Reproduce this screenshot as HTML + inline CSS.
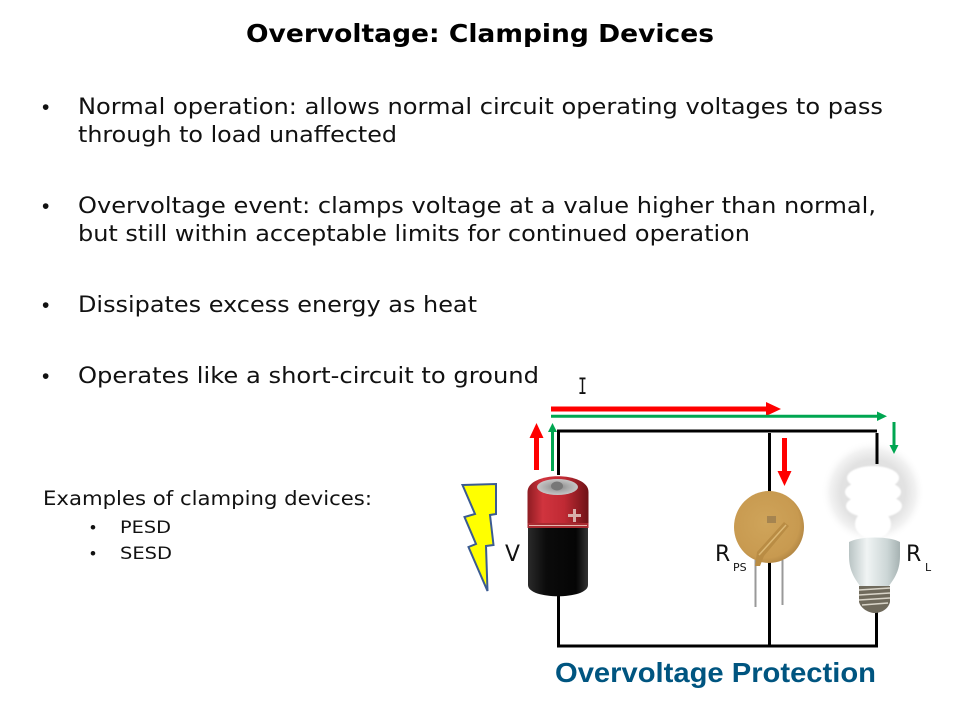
<!DOCTYPE html>
<html>
<head>
<meta charset="utf-8">
<style>
html,body{margin:0;padding:0;background:#fff;width:960px;height:720px;overflow:hidden}
svg{display:block}
.b{font-family:"DejaVu Sans","Liberation Sans",sans-serif;font-size:22.3px;fill:#111}
.s{font-family:"DejaVu Sans","Liberation Sans",sans-serif;font-size:16.8px;fill:#111}
.d{font-family:"Liberation Sans",sans-serif;font-size:21px;fill:#111}
.v{font-family:"DejaVu Sans",sans-serif;font-size:22px;fill:#111}
</style>
</head>
<body>
<svg width="960" height="720" viewBox="0 0 960 720" xmlns="http://www.w3.org/2000/svg">
<defs>
<linearGradient id="red" x1="0" x2="1" y1="0" y2="0">
<stop offset="0" stop-color="#8e1c22"/><stop offset=".25" stop-color="#d0343e"/><stop offset=".6" stop-color="#c02a34"/><stop offset="1" stop-color="#6e1216"/>
</linearGradient>
<linearGradient id="blk" x1="0" x2="1" y1="0" y2="0">
<stop offset="0" stop-color="#2a2a2a"/><stop offset=".3" stop-color="#0b0b0b"/><stop offset=".8" stop-color="#050505"/><stop offset="1" stop-color="#333"/>
</linearGradient>
<radialGradient id="sil" cx=".5" cy=".5" r=".5">
<stop offset="0" stop-color="#808080"/><stop offset=".5" stop-color="#a8a8a8"/><stop offset="1" stop-color="#c6c6c6"/>
</radialGradient>
<radialGradient id="glow" cx=".5" cy=".5" r=".5">
<stop offset="0" stop-color="#dcdcdc"/><stop offset=".62" stop-color="#e2e2e2"/><stop offset=".82" stop-color="#f2f2f2"/><stop offset="1" stop-color="#fff" stop-opacity="0"/>
</radialGradient>
<linearGradient id="base" x1="0" x2="1" y1="0" y2="0">
<stop offset="0" stop-color="#b9c4c4"/><stop offset=".35" stop-color="#f0f4f4"/><stop offset=".75" stop-color="#ccd6d6"/><stop offset="1" stop-color="#a6b2b2"/>
</linearGradient>
<radialGradient id="tan" cx=".45" cy=".45" r=".6">
<stop offset="0" stop-color="#cfa45a"/><stop offset=".8" stop-color="#c89a50"/><stop offset="1" stop-color="#ad8240"/>
</radialGradient>
<filter id="bl" x="-30%" y="-30%" width="160%" height="160%"><feGaussianBlur stdDeviation=".8"/></filter>
</defs>

<text x="246" y="42" textLength="468" lengthAdjust="spacingAndGlyphs" style="font-family:'DejaVu Sans',sans-serif;font-weight:bold;font-size:24.5px;fill:#000">Overvoltage: Clamping Devices</text>

<text class="d" x="42" y="114">•</text>
<text class="d" x="42" y="213">•</text>
<text class="d" x="42" y="312">•</text>
<text class="d" x="42" y="383">•</text>

<text class="b" x="78" y="114" textLength="805" lengthAdjust="spacingAndGlyphs">Normal operation: allows normal circuit operating voltages to pass</text>
<text class="b" x="78" y="142" textLength="319" lengthAdjust="spacingAndGlyphs">through to load unaffected</text>
<text class="b" x="78" y="213" textLength="798" lengthAdjust="spacingAndGlyphs">Overvoltage event: clamps voltage at a value higher than normal,</text>
<text class="b" x="78" y="241" textLength="672" lengthAdjust="spacingAndGlyphs">but still within acceptable limits for continued operation</text>
<text class="b" x="78" y="312" textLength="399" lengthAdjust="spacingAndGlyphs">Dissipates excess energy as heat</text>
<text class="b" x="78" y="383" textLength="461" lengthAdjust="spacingAndGlyphs">Operates like a short-circuit to ground</text>

<text x="43" y="505" textLength="329" lengthAdjust="spacingAndGlyphs" style="font-family:'DejaVu Sans',sans-serif;font-size:19.500px;fill:#111">Examples of clamping devices:</text>
<text x="90" y="533" style="font-family:'Liberation Sans',sans-serif;font-size:17px;fill:#111">•</text>
<text x="90" y="559" style="font-family:'Liberation Sans',sans-serif;font-size:17px;fill:#111">•</text>
<text class="s" x="120" y="533" textLength="51" lengthAdjust="spacingAndGlyphs">PESD</text>
<text class="s" x="120" y="559" textLength="52" lengthAdjust="spacingAndGlyphs">SESD</text>

<!-- bulb glow (behind wires) -->
<ellipse cx="873" cy="492" rx="52" ry="52" fill="url(#glow)"/>

<!-- wires -->
<g stroke="#000" stroke-width="3" fill="none">
<path d="M558.5 475V431H877"/>
<path d="M558.5 596V646H876.5V612"/>
<path d="M877 433V464"/>
<path d="M769.5 433V500M769.5 560V646"/>
</g>

<!-- arrows -->
<path d="M551 406.500H766V402L781 409L766 416V411.500H551Z" fill="#f00"/>
<path d="M551 414.800H877V411.500L887 416.300L877 421V417.800H551Z" fill="#00a651"/>
<path d="M534 470V438H529.500L536.500 423L543.500 438H539V470Z" fill="#f00"/>
<path d="M551 471V432H548L552.500 423L557 432H554V471Z" fill="#00a651"/>
<path d="M782 438V471H777.500L784.500 486L791.500 471H787V438Z" fill="#f00"/>
<path d="M892.500 422V445H889.500L894 454L898.500 445H895.500V422Z" fill="#00a651"/>

<!-- bolt -->
<polygon points="462.500,485 496,484 496,514 490,515 493.500,545 486,546 487.500,591 468.500,547 476,544 464.500,517 475,514" fill="#ff0" stroke="#3b5b92" stroke-width="2"/>

<!-- battery -->
<path d="M527.500 492C527.500 471 588.500 471 588.500 492V527H527.500Z" fill="url(#red)"/>
<path d="M528 527H588V585C588 600 528 600 528 585Z" fill="url(#blk)"/>
<rect x="527.500" y="523" width="61" height="5" fill="#a82a30"/>
<rect x="529" y="525" width="58" height="1" fill="#e8b8b0"/>
<ellipse cx="557.500" cy="487" rx="20.500" ry="8" fill="url(#sil)"/>
<ellipse cx="557" cy="486" rx="6" ry="4.500" fill="#777"/>
<path d="M568 514h5v-5h3v5h5v3h-5v5h-3v-5h-5z" fill="#d8b0ac"/>

<text class="v" x="505" y="561" textLength="15" lengthAdjust="spacingAndGlyphs">V</text>

<text x="578" y="394" style="font-family:'DejaVu Sans Mono',monospace;font-size:22px;fill:#111" textLength="9" lengthAdjust="spacingAndGlyphs">I</text>

<!-- varistor -->
<rect x="754.500" y="560" width="2" height="47" fill="#999"/>
<rect x="781.500" y="560" width="2" height="45" fill="#999"/>
<ellipse cx="769" cy="527" rx="35" ry="36" fill="url(#tan)"/>
<path d="M755 566L757 552L784 522L789 526L764 556L760 566Z" fill="#b98c44"/>
<path d="M759 555L786 525" stroke="#dcb874" stroke-width="1.500" fill="none"/>
<rect x="767" y="516" width="9" height="7" fill="#a58450"/>

<text class="v" x="715" y="561">R</text>
<text x="733" y="571" style="font-family:'DejaVu Sans',sans-serif;font-size:11px;fill:#111">PS</text>

<!-- bulb -->
<g fill="#fff" filter="url(#bl)">
<ellipse cx="873" cy="478" rx="26" ry="12"/>
<ellipse cx="873" cy="492" rx="28" ry="12"/>
<ellipse cx="874" cy="506" rx="28" ry="12"/>
<ellipse cx="873" cy="524" rx="18" ry="15"/>
</g>
<path d="M849 542C860 536 890 536 900 542V556C900 572 893 580 889 586H860C856 580 849 572 849 556Z" fill="url(#base)"/>
<path d="M859 586H890V602C888 610 880 613 875 613C869 613 861 609 859 602Z" fill="#6f6a5c"/>
<g stroke="#d8d4c8" stroke-width="1.500">
<path d="M859 590L890 588M859 595L890 593M859 600L890 598M862 605L888 603"/>
</g>

<text class="v" x="906" y="561">R</text>
<text x="925" y="571" style="font-family:'DejaVu Sans',sans-serif;font-size:11px;fill:#111">L</text>

<text x="555" y="682" textLength="321" lengthAdjust="spacingAndGlyphs" style="font-family:'Liberation Sans',sans-serif;font-weight:bold;font-size:28px;fill:#005580">Overvoltage Protection</text>
</svg>
</body>
</html>
